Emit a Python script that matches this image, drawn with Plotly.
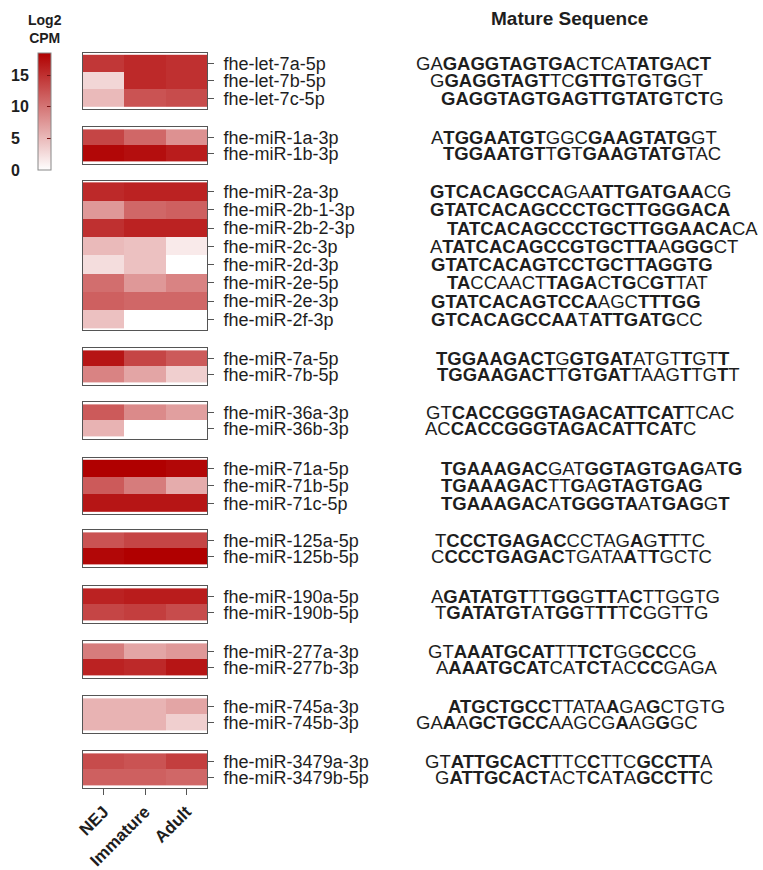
import plotly.graph_objects as go

# ---------------- data ----------------
stages = ["NEJ", "Immature", "Adult"]

mirnas = [
    "fhe-let-7a-5p", "fhe-let-7b-5p", "fhe-let-7c-5p",
    "fhe-miR-1a-3p", "fhe-miR-1b-3p",
    "fhe-miR-2a-3p", "fhe-miR-2b-1-3p", "fhe-miR-2b-2-3p", "fhe-miR-2c-3p",
    "fhe-miR-2d-3p", "fhe-miR-2e-5p", "fhe-miR-2e-3p", "fhe-miR-2f-3p",
    "fhe-miR-7a-5p", "fhe-miR-7b-5p",
    "fhe-miR-36a-3p", "fhe-miR-36b-3p",
    "fhe-miR-71a-5p", "fhe-miR-71b-5p", "fhe-miR-71c-5p",
    "fhe-miR-125a-5p", "fhe-miR-125b-5p",
    "fhe-miR-190a-5p", "fhe-miR-190b-5p",
    "fhe-miR-277a-3p", "fhe-miR-277b-3p",
    "fhe-miR-745a-3p", "fhe-miR-745b-3p",
    "fhe-miR-3479a-3p", "fhe-miR-3479b-5p",
]

family = [0, 0, 0, 1, 1, 2, 2, 2, 2, 2, 2, 2, 2, 3, 3, 4, 4,
          5, 5, 5, 6, 6, 7, 7, 8, 8, 9, 9, 10, 10]

# log2 CPM per developmental stage
nej = [14.5, 3.0, 5.0, 13.5, 18.0,
       15.5, 7.5, 15.0, 5.0, 2.5, 10.5, 11.5, 4.5,
       17.0, 9.0, 12.0, 5.5, 18.5, 12.0, 17.0,
       12.5, 18.0, 16.0, 13.5, 9.5, 16.0, 5.5, 5.5, 13.0, 11.5]
immature = [15.5, 15.5, 12.5, 11.0, 17.5,
            16.0, 11.0, 16.0, 4.5, 4.5, 7.5, 11.0, 0.0,
            13.5, 6.5, 8.5, 0.0, 18.5, 9.5, 17.0,
            13.5, 18.5, 16.5, 14.0, 6.5, 15.5, 5.5, 5.5, 12.5, 11.5]
adult = [15.0, 15.0, 13.0, 8.0, 16.5,
         16.0, 11.5, 16.0, 1.5, 0.0, 9.0, 11.0, 0.0,
         12.0, 3.5, 7.0, 0.0, 18.0, 6.0, 17.0,
         13.5, 18.5, 16.5, 13.0, 7.5, 17.0, 6.5, 3.5, 14.0, 11.0]

sequences = [
    "GAGAGGTAGTGACTCATATGACT", "GGAGGTAGTTCGTTGTGTGGT", "GAGGTAGTGAGTTGTATGTCTG",
    "ATGGAATGTGGCGAAGTATGGT", "TGGAATGTTGTGAAGTATGTAC",
    "GTCACAGCCAGAATTGATGAACG", "GTATCACAGCCCTGCTTGGGACA", "TATCACAGCCCTGCTTGGAACACA",
    "ATATCACAGCCGTGCTTAAGGGCT", "GTATCACAGTCCTGCTTAGGTG", "TACCAACTTAGACTGCGTTAT",
    "GTATCACAGTCCAAGCTTTGG", "GTCACAGCCAATATTGATGCC",
    "TGGAAGACTGGTGATATGTTGTT", "TGGAAGACTTGTGATTAAGTTGTT",
    "GTCACCGGGTAGACATTCATTCAC", "ACCACCGGGTAGACATTCATC",
    "TGAAAGACGATGGTAGTGAGATG", "TGAAAGACTTGAGTAGTGAG", "TGAAAGACATGGGTAATGAGGT",
    "TCCCTGAGACCCTAGAGTTTC", "CCCCTGAGACTGATAATTGCTC",
    "AGATATGTTTGGGTTACTTGGTG", "TGATATGTATGGTTTTCGGTTG",
    "GTAAATGCATTTTCTGGCCCG", "AAAATGCATCATCTACCCGAGA",
    "ATGCTGCCTTATAAGAGCTGTG", "GAAAGCTGCCAAGCGAAGGGC",
    "GTATTGCACTTTCCTTCGCCTTA", "GATTGCACTACTCATAGCCTTC",
]

# ---------------- layout / style ----------------
W, H = 763, 870
HM_LEFT, HM_RIGHT = 83, 207
ROW_H = 18.6
group_top = [53, 127, 181, 348, 402, 458, 530, 586, 641, 696, 751]

# left edge (px) of each sequence, shifted so conserved cores line up
seq_left = [416, 430, 441, 431, 443,
            430, 430, 447, 430, 431, 447, 431, 431,
            436, 437, 426, 425, 441, 441, 441,
            435, 431, 431, 435, 428, 436, 448, 416, 425, 435]

# X = bold nucleotide, . = regular
bold_mask = [
    ".." + "X" * 10 + ".X..XXXX.XX",
    "." + "X" * 8 + "..XXXX.X.X..",
    "X" * 18 + ".XX.",
    "." + "X" * 8 + "..." + "X" * 8 + "..",
    "X" * 8 + ".X." + "X" * 8 + "...",
    "X" * 10 + ".." + "X" * 9 + "..",
    "X" * 23,
    "X" * 22 + "..",
    "." + "X" * 17 + ".XXX..",
    "X" * 22,
    "XX......XXXX.XX.XX...",
    "X" * 13 + "..." + "X" * 5,
    "X" * 11 + "." + "X" * 7 + "..",
    "X" * 9 + "." + "X" * 5 + "....X..X",
    "X" * 9 + "." + "X" * 5 + "....X..X.",
    ".." + "X" * 18 + "....",
    ".." + "X" * 18 + ".",
    "X" * 8 + "..." + "X" * 9 + ".XX",
    "X" * 8 + "..X." + "X" * 8,
    "X" * 8 + "." + "X" * 6 + "." + "X" * 4 + ".X",
    "." + "X" * 9 + ".....X.X...",
    "." + "X" * 9 + ".....X.X....",
    "." + "X" * 7 + "..XX.XX.X......",
    "." + "X" * 7 + ".XXX.XX.X.....",
    ".." + "X" * 8 + "..XXX..XX..",
    "." + "X" * 8 + "..XXX..XX....",
    "X" * 8 + ".....X..X.....",
    "..X." + "X" * 6 + ".....X..X..",
    ".." + "X" * 8 + "...X..." + "X" * 5 + ".",
    "." + "X" * 8 + "...X.X." + "X" * 5 + ".",
]

FONT = "Liberation Sans, Arial, sans-serif"
TXT = "#1e1e1e"
LINE = "#555555"


def markup(seq, mask):
    """Wrap bold runs of a sequence in <b> tags."""
    out, run, cur = [], "", None
    for ch, m in zip(seq, mask):
        b = m == "X"
        if cur is not None and b != cur:
            out.append(f"<b>{run}</b>" if cur else run)
            run = ""
        run += ch
        cur = b
    out.append(f"<b>{run}</b>" if cur else run)
    return "".join(out)


fig = go.Figure()
annotations = []
n_groups = max(family) + 1

for g in range(n_groups):
    idx = [i for i, f in enumerate(family) if f == g]
    names = [mirnas[i] for i in idx]
    z = [[nej[i], immature[i], adult[i]] for i in idx]
    k = "" if g == 0 else str(g + 1)
    fig.add_trace(go.Heatmap(
        z=z, x=stages, y=names, coloraxis="coloraxis",
        xaxis="x" + k, yaxis="y" + k,
        hovertemplate="%{y}<br>%{x}: %{z}<extra></extra>",
    ))
    top = group_top[g]
    bottom = top + len(idx) * ROW_H
    last = g == n_groups - 1
    fig.layout["yaxis" + k] = dict(
        domain=[1 - bottom / H, 1 - top / H], anchor="x" + k, side="right",
        autorange="reversed", tickmode="array", tickvals=names,
        ticks="outside", ticklen=6, tickcolor=LINE,
        showline=True, mirror=True, linecolor=LINE, linewidth=1,
        showgrid=False, zeroline=False, ticklabelstandoff=6, automargin=False,
        tickfont=dict(family=FONT, size=18, color=TXT),
    )
    fig.layout["xaxis" + k] = dict(
        domain=[HM_LEFT / W, HM_RIGHT / W], anchor="y" + k,
        showline=True, mirror=True, linecolor=LINE, linewidth=1,
        showgrid=False, zeroline=False, showticklabels=last, automargin=False,
        ticks="outside" if last else "", ticklen=6, tickcolor=LINE,
        tickangle=-45,
        tickfont=dict(family=FONT, size=17, color=TXT, weight="bold"),
    )
    for i in idx:
        annotations.append(dict(
            text=markup(sequences[i], bold_mask[i]),
            xref="paper", x=seq_left[i] / W, xanchor="left",
            yref="y" + k, y=mirnas[i], yanchor="middle",
            showarrow=False, borderpad=0, borderwidth=0,
            font=dict(family=FONT, size=18.5, color=TXT),
        ))

# colour-scale tick labels live on their own axis, aligned with the colour bar
CB_TOP, CB_BOTTOM = 53, 170
fig.add_trace(go.Scatter(x=[None], y=[None], xaxis="x12", yaxis="y12",
                         showlegend=False, hoverinfo="skip"))
fig.layout["xaxis12"] = dict(domain=[0, 10 / W], anchor="y12", visible=False)
fig.layout["yaxis12"] = dict(
    domain=[1 - CB_BOTTOM / H, 1 - CB_TOP / H], anchor="x12", side="right",
    range=[0, 18.5], tickvals=[0, 5, 10, 15], ticks="", showline=False,
    showgrid=False, zeroline=False, fixedrange=True, automargin=False,
    tickfont=dict(family=FONT, size=16, color=TXT, weight="bold"),
)

annotations += [
    dict(text="<b>Mature Sequence</b>", xref="paper", yref="paper",
         x=569 / W, y=1 - 18 / H, xanchor="center", yanchor="middle",
         showarrow=False, font=dict(family=FONT, size=19, color=TXT)),
    dict(text="<b>Log2<br>CPM</b>", xref="paper", yref="paper",
         x=45 / W, y=1 - 29 / H, xanchor="center", yanchor="middle",
         showarrow=False, font=dict(family=FONT, size=14, color=TXT)),
]

fig.update_layout(
    width=W, height=H,
    margin=dict(l=0, r=0, t=0, b=0, pad=0, autoexpand=False),
    paper_bgcolor="white", plot_bgcolor="white", showlegend=False,
    annotations=annotations,
    coloraxis=dict(
        colorscale=[[0, "#ffffff"], [1, "#b00000"]], cmin=0, cmax=18.5,
        colorbar=dict(
            x=38 / W, xanchor="left", xpad=0, y=1 - CB_TOP / H,
            yanchor="top", ypad=0, len=CB_BOTTOM - CB_TOP, lenmode="pixels",
            thickness=13, thicknessmode="pixels", outlinecolor="#888888",
            outlinewidth=1, showticklabels=False, ticks="inside",
            tickvals=[5, 10, 15], ticklen=4, tickcolor="#7a1010",
        ),
    ),
)

fig.write_html("out.html")
